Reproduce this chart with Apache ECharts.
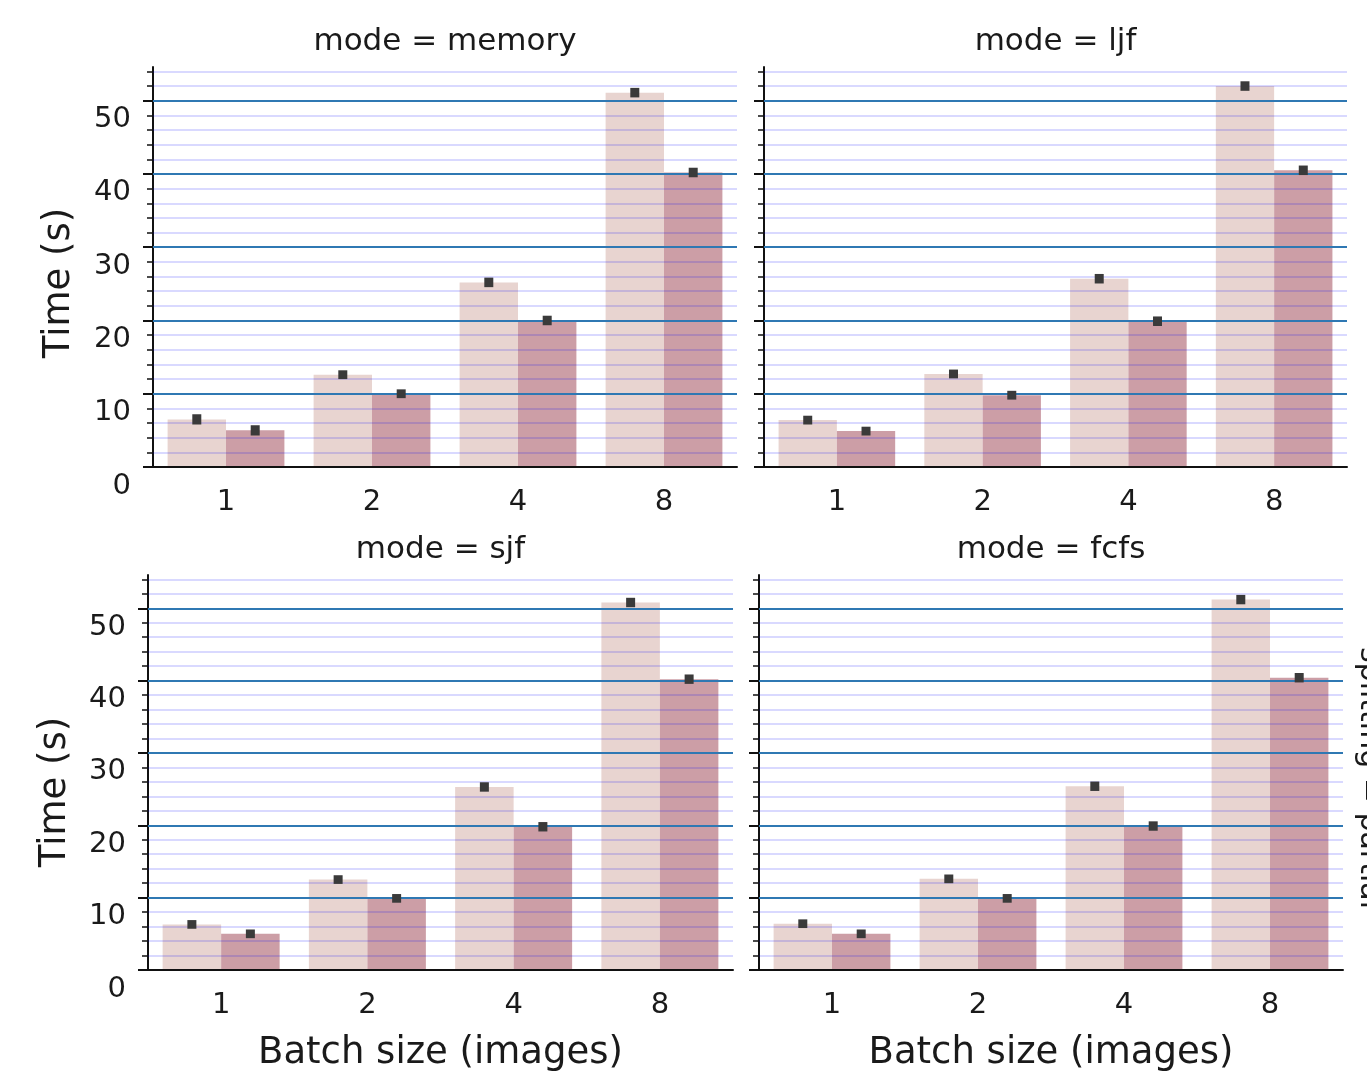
<!DOCTYPE html>
<html>
<head>
<meta charset="utf-8">
<script src="https://cdn.jsdelivr.net/npm/echarts@6/dist/echarts.min.js"></script>
<style>
html,body{margin:0;padding:0;background:#fff;}
#chart{width:1367px;height:1073px;}
</style>
</head>
<body>
<div id="chart"></div>
<script>
// ---- data ----
const categories = ['1', '2', '4', '8'];
const panelTitles = ['mode = memory', 'mode = ljf', 'mode = sjf', 'mode = fcfs'];
const rowTitle = 'splitting = partial';
const memoryLight = [6.5, 12.6, 25.2, 51.1];
const memoryDark  = [5.0, 10.0, 20.0, 40.2];
const ljfLight    = [6.4, 12.7, 25.7, 52.0];
const ljfDark     = [4.9, 9.8, 19.9, 40.5];
const sjfLight    = [6.3, 12.5, 25.3, 50.8];
const sjfDark     = [5.0, 9.9, 19.8, 40.2];
const fcfsLight   = [6.4, 12.6, 25.4, 51.2];
const fcfsDark    = [5.0, 9.9, 19.9, 40.4];
const memoryErr = [0.7, 0.6, 0.65, 0.65];
const ljfErr    = [0.6, 0.6, 0.65, 0.65];
const sjfErr    = [0.6, 0.6, 0.65, 0.65];
const fcfsErr   = [0.6, 0.6, 0.65, 0.65];
const majorTicks = [0, 10, 20, 30, 40, 50];
const majorGrid = [10, 20, 30, 40, 50];
const minorTicks = [2, 4, 6, 8, 12, 14, 16, 18, 22, 24, 26, 28, 32, 34, 36, 38, 42, 44, 46, 48, 52, 54];
const yMax = 54.6;
const xName = 'Batch size (images)';
const yName = 'Time (s)';

const panels = [
  {light: memoryLight, dark: memoryDark, err: memoryErr},
  {light: ljfLight, dark: ljfDark, err: ljfErr},
  {light: sjfLight, dark: sjfDark, err: sjfErr},
  {light: fcfsLight, dark: fcfsDark, err: fcfsErr}
];

// ---- layout / style ----
const FONT = 'DejaVu Sans';
const TXT = '#1a1a1a';
const LIGHT = '#e8d4d0';
const DARK = '#cc9ea6';
const MAJOR = '#2f78b3';
const MINOR = 'rgba(0,0,255,0.2)';
const grids = [
  {left: 153, top: 67, width: 584, height: 400},
  {left: 764, top: 67, width: 583, height: 400},
  {left: 148, top: 575, width: 585, height: 400},
  {left: 759, top: 575, width: 584, height: 400}
];
const yNamePos = [[59, 283], null, [55, 792], null];

const xAxes = [], yAxes = [], series = [], titles = [], graphics = [];
grids.forEach((g, i) => {
  const bottomRow = i >= 2;
  const leftCol = i % 2 === 0;
  xAxes.push({
    type: 'category', gridIndex: i, data: categories,
    axisLine: {lineStyle: {color: '#111', width: 2}},
    axisTick: {alignWithLabel: true, length: 8, lineStyle: {color: '#111', width: 2}},
    axisLabel: {fontFamily: FONT, fontSize: 29, color: TXT, margin: 21},
    splitLine: {show: false},
    name: bottomRow ? xName : '',
    nameLocation: 'middle', nameGap: 65,
    nameTextStyle: {fontFamily: FONT, fontSize: 37, color: TXT},
    z: 4
  });
  // main y axis (major ticks + labels)
  yAxes.push({
    type: 'value', gridIndex: i, min: 0, max: yMax,
    axisLine: {show: true, lineStyle: {color: '#111', width: 2}},
    axisTick: {show: true, length: 10, customValues: majorTicks, lineStyle: {color: '#111', width: 2}},
    axisLabel: {show: leftCol, customValues: majorTicks, fontFamily: FONT, fontSize: 29, color: TXT,
      margin: 22, verticalAlign: 'top', lineHeight: 38},
    splitLine: {show: false},
    z: 4
  });
  // minor-tick y axis
  yAxes.push({
    type: 'value', gridIndex: i, min: 0, max: yMax, position: 'left',
    axisLine: {show: false},
    axisTick: {show: true, length: 6, customValues: minorTicks, lineStyle: {color: '#111', width: 1.5}},
    axisLabel: {show: false},
    splitLine: {show: false},
    z: 4
  });
  const yIdx = i * 2;
  const p = panels[i];
  const lineData = minorTicks.map(v => ({yAxis: v, lineStyle: {color: MINOR, width: 1.5, type: 'solid'}}))
    .concat(majorGrid.map(v => ({yAxis: v, lineStyle: {color: MAJOR, width: 2.2, type: 'solid'}})));
  series.push({
    type: 'bar', xAxisIndex: i, yAxisIndex: yIdx, data: p.light,
    barGap: '0%', barCategoryGap: '20%', itemStyle: {color: LIGHT}, z: 2, silent: true,
    markLine: {silent: true, symbol: 'none', label: {show: false}, z: 5, animation: false, data: lineData}
  });
  series.push({
    type: 'bar', xAxisIndex: i, yAxisIndex: yIdx, data: p.dark,
    barGap: '0%', barCategoryGap: '20%', itemStyle: {color: DARK}, z: 2, silent: true
  });
  const errData = [];
  p.light.forEach((v, k) => errData.push([k, v, p.err[k], -1]));
  p.dark.forEach((v, k) => errData.push([k, v, p.err[k], 1]));
  series.push({
    type: 'custom', xAxisIndex: i, yAxisIndex: yIdx, data: errData, z: 8, silent: true,
    renderItem: function (params, api) {
      const c = api.coord([api.value(0), api.value(1)]);
      const bw = api.size([1, 0])[0];
      const x = c[0] + api.value(3) * bw * 0.2;
      const top = api.coord([api.value(0), api.value(1) + api.value(2)])[1];
      const bot = api.coord([api.value(0), api.value(1) - api.value(2)])[1];
      return {type: 'rect', shape: {x: x - 4.5, y: top, width: 9, height: bot - top},
        style: {fill: '#3a3a3a'}, z2: 10};
    }
  });
  titles.push({
    text: panelTitles[i], left: g.left + g.width / 2, top: g.top - 41, textAlign: 'center', padding: 0,
    textStyle: {fontFamily: FONT, fontSize: 31, fontWeight: 'normal', color: TXT}
  });
  if (yNamePos[i]) {
    graphics.push({
      type: 'text', x: yNamePos[i][0], y: yNamePos[i][1], rotation: Math.PI / 2,
      style: {text: yName, fontFamily: FONT, fontSize: 37, fill: TXT, align: 'center', verticalAlign: 'middle'}
    });
  }
});
graphics.push({
  type: 'text', x: 1369, y: 778, rotation: -Math.PI / 2,
  style: {text: rowTitle, fontFamily: FONT, fontSize: 30, fill: TXT, align: 'center', verticalAlign: 'middle'}
});

const chart = echarts.init(document.getElementById('chart'), null, {renderer: 'canvas'});
chart.setOption({
  backgroundColor: '#fff',
  animation: false,
  title: titles,
  grid: grids,
  xAxis: xAxes,
  yAxis: yAxes,
  series: series,
  graphic: graphics
});
</script>
</body>
</html>
